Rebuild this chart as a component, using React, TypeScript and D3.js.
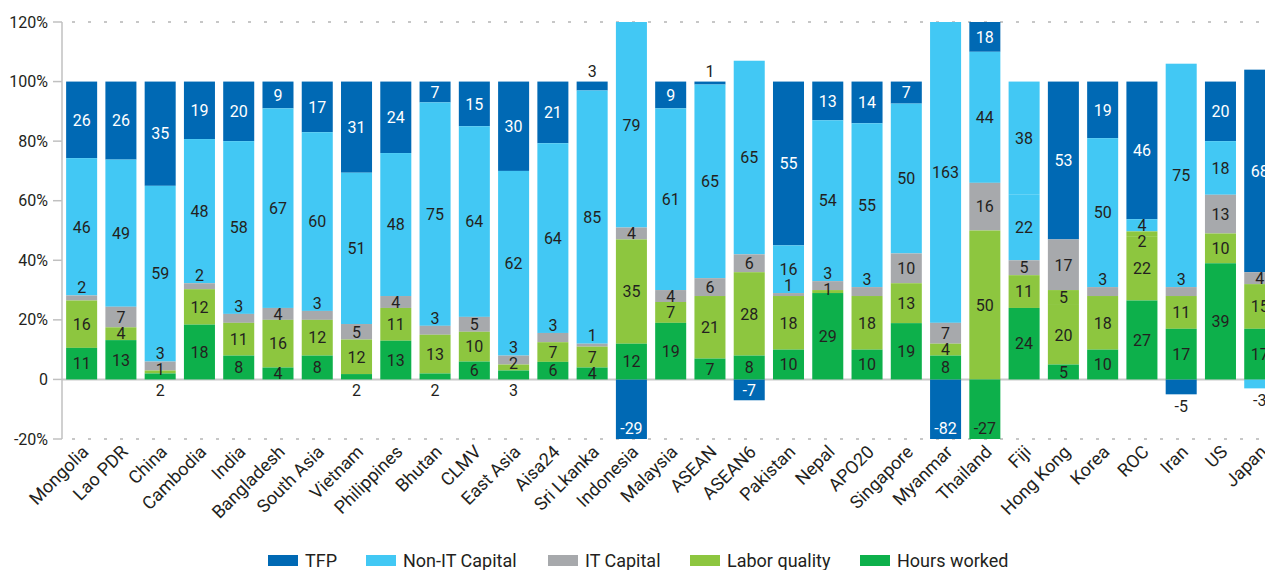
import React from "react";
import * as d3 from "d3";

const categories = [
  "Mongolia", "Lao PDR", "China", "Cambodia", "India", "Bangladesh", "South Asia", "Vietnam",
  "Philippines", "Bhutan", "CLMV", "East Asia", "Aisa24", "Sri Lkanka", "Indonesia", "Malaysia",
  "ASEAN", "ASEAN6", "Pakistan", "Nepal", "APO20", "Singapore", "Myanmar", "Thailand", "Fiji",
  "Hong Kong", "Korea", "ROC", "Iran", "US", "Japan",
];

// contributions (% of output growth); labels show rounded values
const hoursWorked = [10.6, 13.2, 2, 18.4, 8, 4, 8, 1.8, 13, 2, 6, 3, 5.9, 4, 12, 19, 7, 8, 10, 29, 10, 18.9, 8, -27, 24, 5, 10, 26.5, 17, 39, 17];
const laborQuality = [15.9, 4.3, 1, 11.9, 11, 16, 12, 11.6, 11, 13, 10, 2, 6.6, 7, 35, 7, 21, 28, 18, 1, 18, 13.4, 4, 50, 11, 20, 18, 21.6, 11, 10, 15];
const itCapital = [1.7, 6.9, 3, 2, 3, 4, 3, 5.2, 4, 3, 5, 3, 3.1, 1, 4, 4, 6, 6, 1, 3, 3, 10, 7, 16, 5, 5, 3, 1.6, 3, 13, 4];
const nonItCapital = [46.1, 49.4, 59, 48.4, 58, 67, 60, 50.8, 48, 75, 64, 62, 63.7, 85, 79, 61, 65, 65, 16, 54, 55, 50.3, 163, 44, 22, 17, 50, 4.1, 75, 18, -3];
const tfp = [25.7, 26.2, 35, 19.3, 20, 9, 17, 30.6, 24, 7, 15, 30, 20.7, 3, -29, 9, 1, -7, 55, 13, 14, 7.4, -82, 18, 38, 53, 19, 46.2, -5, 20, 68];

const seriesNames = ["Hours worked", "Labor quality", "IT Capital", "Non-IT Capital", "TFP"];
const seriesValues = [hoursWorked, laborQuality, itCapital, nonItCapital, tfp];
const legendOrder = ["TFP", "Non-IT Capital", "IT Capital", "Labor quality", "Hours worked"];

const yTicks = [-20, 0, 20, 40, 60, 80, 100, 120];

// segments drawn in another series' colour in the original
const colorOverrides = [
  { category: "Fiji", series: "TFP", as: "Non-IT Capital" },
  { category: "Hong Kong", series: "IT Capital", as: "Labor quality" },
  { category: "Hong Kong", series: "Non-IT Capital", as: "IT Capital" },
  { category: "ROC", series: "IT Capital", as: "Labor quality" },
];

const COLORS: Record<string, string> = {
  TFP: "#0069b4",
  "Non-IT Capital": "#42c8f4",
  "IT Capital": "#a7a9ac",
  "Labor quality": "#8dc63f",
  "Hours worked": "#0db04b",
};

const W = 1265;
const H = 570;
const M = { left: 62, top: 22, bottom: 439 };
const FONT = "Roboto, 'Noto Sans', sans-serif";
const TXT = "#231f20";

export default function App() {
  const rows = categories.map((c, i) => {
    const r: any = { category: c };
    seriesNames.forEach((s, k) => (r[s] = seriesValues[k][i]));
    return r;
  });
  const stack = d3.stack<any>().keys(seriesNames).offset(d3.stackOffsetDiverging);
  const stacked = stack(rows);

  const x = d3.scaleBand<string>().domain(categories).range([M.left, M.left + 31 * 39.27]).paddingInner(0.21).paddingOuter(0.105);
  const y = d3.scaleLinear().domain([-20, 120]).range([M.bottom, M.top]);
  const yMin = -20, yMax = 120;

  const colorFor = (cat: string, s: string) => {
    const o = colorOverrides.find((d) => d.category === cat && d.series === s);
    return COLORS[o ? o.as : s];
  };

  const bars: any[] = [];
  const labels: any[] = [];
  categories.forEach((cat, i) => {
    const posLabels: any[] = [];
    for (let k = seriesNames.length - 1; k >= 0; k--) {
      const s = seriesNames[k];
      const seg = stacked[k][i];
      const v = seriesValues[k][i];
      const rv = Math.round(v);
      const lo = Math.min(seg[0], seg[1]);
      const hi = Math.max(seg[0], seg[1]);
      const fill = colorFor(cat, s);
      bars.push({ key: cat + s, x: x(cat)!, y0: y(hi), y1: y(lo), fill });
      const vlo = Math.max(lo, yMin), vhi = Math.min(hi, yMax);
      const center = y((vlo + vhi) / 2);
      const dark = fill === COLORS.TFP;
      const cx = x(cat)! + x.bandwidth() / 2;
      if (v < 0) {
        let ly, inside;
        if (lo < yMin) { ly = y(yMin) - 11; inside = true; }
        else if (rv <= -6) { ly = center; inside = true; }
        else { ly = y(lo) + 12; inside = false; }
        labels.push({ key: cat + s, x: cx, y: ly, text: String(rv), fill: inside && dark ? "#fff" : TXT });
      } else {
        const isTop = k === seriesNames.length - 1 || seriesValues.slice(k + 1).every((arr) => arr[i] < 0);
        let ly, inside = true;
        if (rv <= 3 && isTop) { ly = y(hi) - 10; inside = false; }
        else if (rv <= 3 && k === 0) { ly = y(0) + 11; inside = false; }
        else if (rv <= 3) { ly = y(hi) - 8; }
        else ly = center;
        posLabels.push({ key: cat + s, x: cx, y: ly, text: String(rv), fill: inside && dark ? "#fff" : TXT });
      }
    }
    for (let j = 1; j < posLabels.length; j++) {
      if (posLabels[j].y < posLabels[j - 1].y + 16) posLabels[j].y = posLabels[j - 1].y + 16;
    }
    labels.push(...posLabels);
  });

  const legendX = [268, 366, 548, 690, 860];

  return (
    <svg width={W} height={H} style={{ position: "fixed", left: 0, top: 0, background: "#fff" }} fontFamily={FONT}>
      <defs>
        <clipPath id="plot">
          <rect x={M.left} y={M.top} width={W} height={M.bottom - M.top} />
        </clipPath>
      </defs>
      {[yMax, yMin].map((t) => (
        <line key={"g" + t} x1={M.left + 10} x2={W} y1={y(t)} y2={y(t)} stroke="#b5b5b5" strokeWidth={1.5} strokeDasharray="3 13" />
      ))}
      <line x1={M.left} x2={W} y1={y(0)} y2={y(0)} stroke="#c8c8c8" strokeWidth={2} />
      <g clipPath="url(#plot)">
        {bars.map((b) => (
          <rect key={b.key} x={b.x} y={b.y0} width={x.bandwidth()} height={Math.max(0, b.y1 - b.y0)} fill={b.fill} />
        ))}
      </g>
      <line x1={M.left} x2={M.left} y1={M.top} y2={M.bottom} stroke="#c0c0c0" strokeWidth={1.5} />
      {yTicks.map((t) => (
        <g key={"t" + t}>
          <line x1={M.left - 9} x2={M.left} y1={y(t)} y2={y(t)} stroke="#c0c0c0" strokeWidth={1.5} />
          <text x={48} y={y(t)} dy="0.35em" textAnchor="end" fontSize={16} fill={TXT}>
            {t === 0 ? "0" : t + "%"}
          </text>
        </g>
      ))}
      {labels.map((l) => (
        <text key={"l" + l.key} x={l.x} y={l.y} dy="0.36em" textAnchor="middle" fontSize={16} fill={l.fill}>
          {l.text}
        </text>
      ))}
      {categories.map((c) => (
        <text key={"x" + c} transform={`translate(${x(c)! + x.bandwidth() / 2 + 8},453) rotate(-45)`} textAnchor="end" fontSize={18} fill={TXT}>
          {c}
        </text>
      ))}
      {legendOrder.map((s, i) => (
        <g key={"lg" + s} transform={`translate(${legendX[i]},555)`}>
          <rect x={0} y={0} width={30} height={11} fill={COLORS[s]} />
          <text x={37} y={12} fontSize={18} fill={TXT}>{s}</text>
        </g>
      ))}
    </svg>
  );
}
